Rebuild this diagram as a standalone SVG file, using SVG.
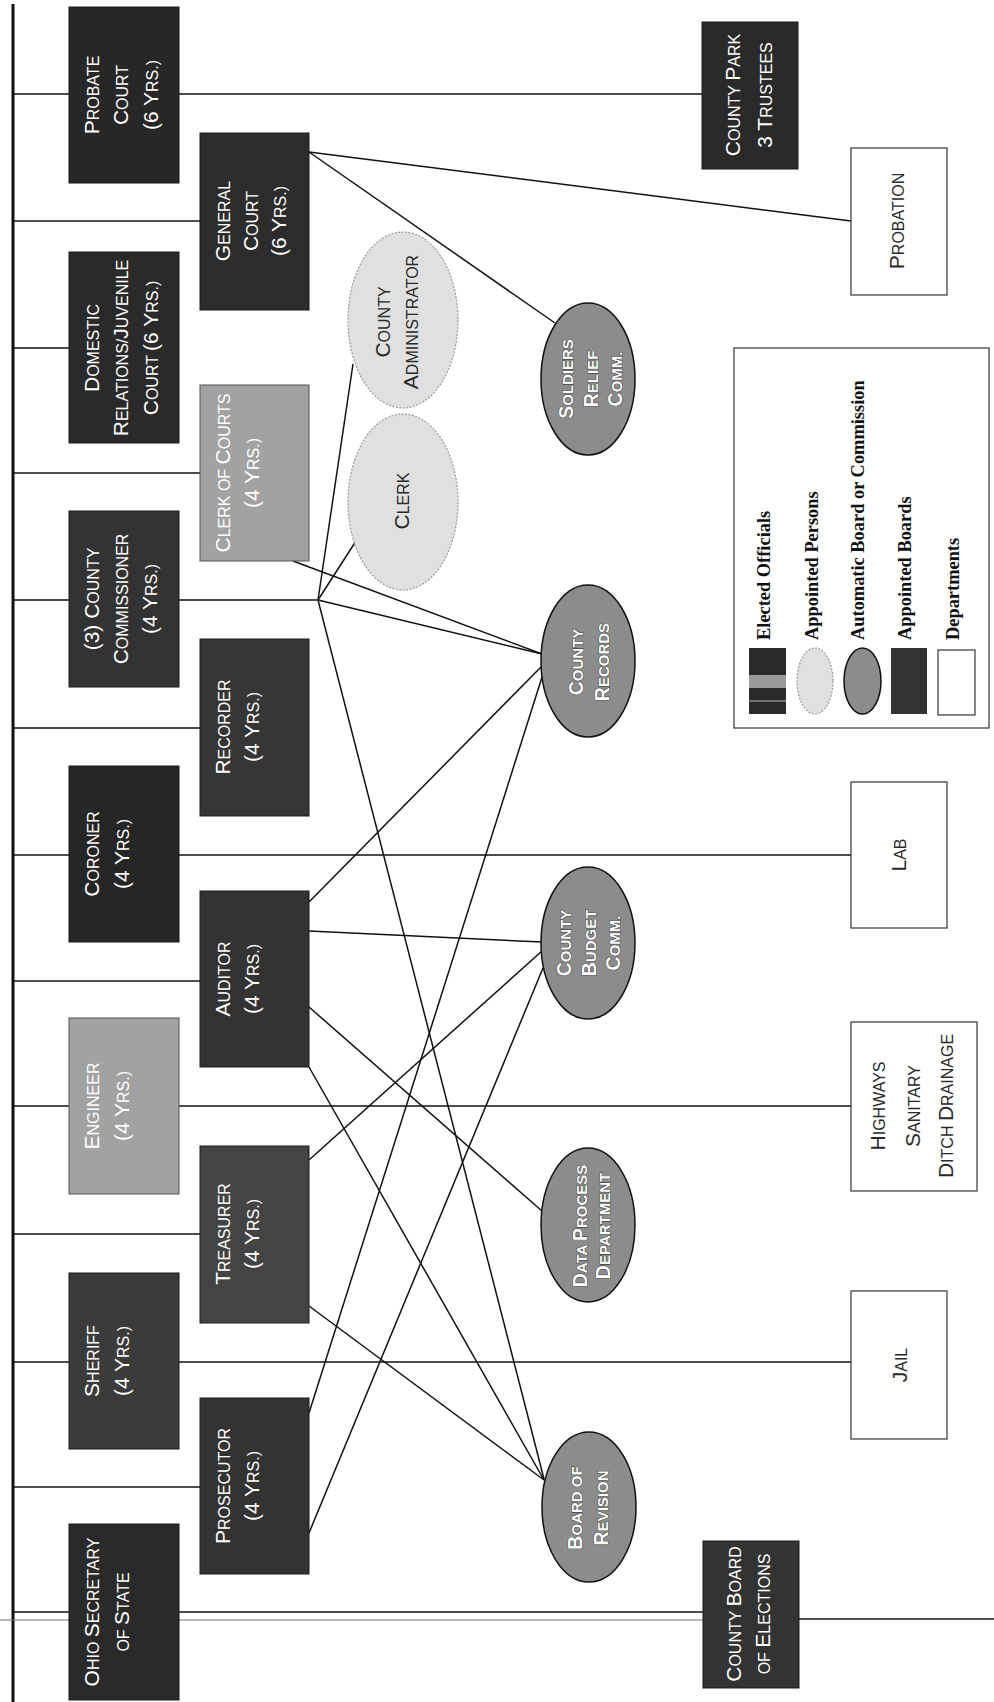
<svg xmlns="http://www.w3.org/2000/svg" width="994" height="1702" viewBox="0 0 994 1702">
<style>
.ln{stroke:#111;stroke-width:1.5;fill:none}
.fa{stroke:#777;stroke-width:1.2;fill:none}
.bar{stroke:#111;stroke-width:3}
.dk{stroke:#1a1a1a;stroke-width:1}
.lt{fill:#a2a2a2;stroke:#555;stroke-width:1}
.dept{fill:#fff;stroke:#444;stroke-width:1.3}
.auto{fill:#8c8c8c;stroke:#111;stroke-width:1.5}
.appt{fill:#e0e0e0;stroke:#999;stroke-width:1.2;stroke-dasharray:2 1.5}
.t{font-family:"Liberation Sans",Arial,Helvetica,sans-serif;font-size:16px;fill:#fff;text-anchor:middle}
.B{font-size:21px}
.e{font-family:"Liberation Sans",Arial,Helvetica,sans-serif;font-size:15px;font-weight:bold;fill:#fff;stroke:#222;stroke-width:0.8;paint-order:stroke;text-anchor:middle}
.E{font-size:19.5px}
.d{fill:#2a2a2a}
.lg{font-family:"Liberation Serif","Times New Roman",serif;font-size:18.4px;font-weight:bold;fill:#111}
</style>

<g id="connectors">
  <line class="bar" x1="13" y1="4" x2="13" y2="1702"/>
  <line class="ln" x1="13" y1="94" x2="702" y2="94"/>
  <line class="ln" x1="13" y1="348" x2="69" y2="348"/>
  <line class="ln" x1="13" y1="600" x2="318" y2="600"/>
  <line class="ln" x1="13" y1="855" x2="851" y2="855"/>
  <line class="ln" x1="13" y1="1106" x2="851" y2="1106"/>
  <line class="ln" x1="13" y1="1362" x2="851" y2="1362"/>
  <line class="ln" x1="13" y1="1612" x2="703" y2="1612"/>
  <line class="fa" x1="0" y1="1620" x2="703" y2="1620"/>
  <line class="ln" x1="799" y1="1619" x2="994" y2="1619"/>
  <line class="ln" x1="13" y1="221" x2="200" y2="221"/>
  <line class="ln" x1="13" y1="473" x2="200" y2="473"/>
  <line class="ln" x1="13" y1="728" x2="200" y2="728"/>
  <line class="ln" x1="13" y1="981" x2="200" y2="981"/>
  <line class="ln" x1="13" y1="1234" x2="200" y2="1234"/>
  <line class="ln" x1="13" y1="1487" x2="200" y2="1487"/>
  <line class="ln" x1="309" y1="152" x2="851" y2="221"/>
  <line class="ln" x1="309" y1="152" x2="555" y2="323"/>
  <line class="ln" x1="318" y1="600" x2="353" y2="364"/>
  <line class="ln" x1="318" y1="600" x2="356" y2="541"/>
  <line class="ln" x1="318" y1="600" x2="542" y2="654"/>
  <line class="ln" x1="318" y1="600" x2="544" y2="1479"/>
  <line class="ln" x1="293" y1="561" x2="542" y2="654"/>
  <line class="ln" x1="309" y1="902" x2="542" y2="666"/>
  <line class="ln" x1="309" y1="931" x2="542" y2="942"/>
  <line class="ln" x1="309" y1="1007" x2="542" y2="1211"/>
  <line class="ln" x1="309" y1="1067" x2="544" y2="1480"/>
  <line class="ln" x1="309" y1="1160" x2="542" y2="951"/>
  <line class="ln" x1="309" y1="1306" x2="544" y2="1480"/>
  <line class="ln" x1="309" y1="1413" x2="543" y2="674"/>
  <line class="ln" x1="309" y1="1533" x2="543" y2="968"/>
</g>

<g id="n-probate">
  <rect class="dk" x="69" y="7" width="110" height="176" fill="#272727"/>
  <text class="t" transform="translate(99,95) rotate(-90)"><tspan x="0" y="0"><tspan class="B">P</tspan>ROBATE</tspan><tspan x="0" y="29"><tspan class="B">C</tspan>OURT</tspan><tspan x="0" y="59"><tspan class="B">(6 Y</tspan>RS.)</tspan></text>
</g>
<g id="n-domestic">
  <rect class="dk" x="69" y="252" width="110" height="191" fill="#2a2a2a"/>
  <text class="t" transform="translate(99,348) rotate(-90)"><tspan x="0" y="0"><tspan class="B">D</tspan>OMESTIC</tspan><tspan x="0" y="29"><tspan class="B">R</tspan>ELATIONS/<tspan class="B">J</tspan>UVENILE</tspan><tspan x="0" y="59"><tspan class="B">C</tspan>OURT <tspan class="B">(6 Y</tspan>RS.)</tspan></text>
</g>
<g id="n-commissioner">
  <rect class="dk" x="69" y="511" width="110" height="176" fill="#333"/>
  <text class="t" transform="translate(99,599) rotate(-90)"><tspan x="0" y="0"><tspan class="B">(3) C</tspan>OUNTY</tspan><tspan x="0" y="29"><tspan class="B">C</tspan>OMMISSIONER</tspan><tspan x="0" y="58"><tspan class="B">(4 Y</tspan>RS.)</tspan></text>
</g>
<g id="n-coroner">
  <rect class="dk" x="69" y="766" width="110" height="176" fill="#262626"/>
  <text class="t" transform="translate(99,854) rotate(-90)"><tspan x="0" y="0"><tspan class="B">C</tspan>ORONER</tspan><tspan x="0" y="30"><tspan class="B">(4 Y</tspan>RS.)</tspan></text>
</g>
<g id="n-engineer">
  <rect class="lt" x="69" y="1018" width="110" height="176"/>
  <text class="t" transform="translate(99,1106) rotate(-90)"><tspan x="0" y="0"><tspan class="B">E</tspan>NGINEER</tspan><tspan x="0" y="30"><tspan class="B">(4 Y</tspan>RS.)</tspan></text>
</g>
<g id="n-sheriff">
  <rect class="dk" x="69" y="1273" width="110" height="176" fill="#3b3b3b"/>
  <text class="t" transform="translate(99,1361) rotate(-90)"><tspan x="0" y="0"><tspan class="B">S</tspan>HERIFF</tspan><tspan x="0" y="30"><tspan class="B">(4 Y</tspan>RS.)</tspan></text>
</g>
<g id="n-ohio">
  <rect class="dk" x="69" y="1524" width="110" height="176" fill="#2a2a2a"/>
  <text class="t" transform="translate(99,1612) rotate(-90)"><tspan x="0" y="0"><tspan class="B">O</tspan>HIO <tspan class="B">S</tspan>ECRETARY</tspan><tspan x="0" y="30">OF <tspan class="B">S</tspan>TATE</tspan></text>
</g>

<g id="n-general">
  <rect class="dk" x="200" y="133" width="109" height="177" fill="#2c2c2c"/>
  <text class="t" transform="translate(230,221) rotate(-90)"><tspan x="0" y="0"><tspan class="B">G</tspan>ENERAL</tspan><tspan x="0" y="28"><tspan class="B">C</tspan>OURT</tspan><tspan x="0" y="56"><tspan class="B">(6 Y</tspan>RS.)</tspan></text>
</g>
<g id="n-clerkcourts">
  <rect class="lt" x="200" y="385" width="109" height="176"/>
  <text class="t" transform="translate(230,473) rotate(-90)"><tspan x="0" y="0"><tspan class="B">C</tspan>LERK OF <tspan class="B">C</tspan>OURTS</tspan><tspan x="0" y="29"><tspan class="B">(4 Y</tspan>RS.)</tspan></text>
</g>
<g id="n-recorder">
  <rect class="dk" x="200" y="639" width="109" height="177" fill="#363636"/>
  <text class="t" transform="translate(230,727) rotate(-90)"><tspan x="0" y="0"><tspan class="B">R</tspan>ECORDER</tspan><tspan x="0" y="29"><tspan class="B">(4 Y</tspan>RS.)</tspan></text>
</g>
<g id="n-auditor">
  <rect class="dk" x="200" y="891" width="109" height="176" fill="#333"/>
  <text class="t" transform="translate(230,979) rotate(-90)"><tspan x="0" y="0"><tspan class="B">A</tspan>UDITOR</tspan><tspan x="0" y="29"><tspan class="B">(4 Y</tspan>RS.)</tspan></text>
</g>
<g id="n-treasurer">
  <rect class="dk" x="200" y="1146" width="109" height="177" fill="#444"/>
  <text class="t" transform="translate(230,1234) rotate(-90)"><tspan x="0" y="0"><tspan class="B">T</tspan>REASURER</tspan><tspan x="0" y="29"><tspan class="B">(4 Y</tspan>RS.)</tspan></text>
</g>
<g id="n-prosecutor">
  <rect class="dk" x="200" y="1398" width="109" height="176" fill="#333"/>
  <text class="t" transform="translate(230,1486) rotate(-90)"><tspan x="0" y="0"><tspan class="B">P</tspan>ROSECUTOR</tspan><tspan x="0" y="29"><tspan class="B">(4 Y</tspan>RS.)</tspan></text>
</g>

<g id="n-countyadmin">
  <ellipse class="appt" cx="403" cy="320" rx="55" ry="88"/>
  <text class="t d" transform="translate(390,322) rotate(-90)"><tspan x="0" y="0"><tspan class="B">C</tspan>OUNTY</tspan><tspan x="0" y="28"><tspan class="B">A</tspan>DMINISTRATOR</tspan></text>
</g>
<g id="n-clerk">
  <ellipse class="appt" cx="403" cy="502" rx="55" ry="88"/>
  <text class="t d" transform="translate(409,501) rotate(-90)"><tspan class="B">C</tspan>LERK</text>
</g>

<g id="n-soldiers">
  <ellipse class="auto" cx="588" cy="379" rx="47" ry="76"/>
  <text class="e" transform="translate(573,379) rotate(-90)"><tspan x="0" y="0"><tspan class="E">S</tspan>OLDIERS</tspan><tspan x="0" y="24.5"><tspan class="E">R</tspan>ELIEF</tspan><tspan x="0" y="49"><tspan class="E">C</tspan>OMM.</tspan></text>
</g>
<g id="n-records">
  <ellipse class="auto" cx="588" cy="661" rx="47" ry="76"/>
  <text class="e" transform="translate(583,662) rotate(-90)"><tspan x="0" y="0"><tspan class="E">C</tspan>OUNTY</tspan><tspan x="0" y="26"><tspan class="E">R</tspan>ECORDS</tspan></text>
</g>
<g id="n-budget">
  <ellipse class="auto" cx="588" cy="943" rx="47" ry="76"/>
  <text class="e" transform="translate(571,943) rotate(-90)"><tspan x="0" y="0"><tspan class="E">C</tspan>OUNTY</tspan><tspan x="0" y="24.5"><tspan class="E">B</tspan>UDGET</tspan><tspan x="0" y="49"><tspan class="E">C</tspan>OMM.</tspan></text>
</g>
<g id="n-dataprocess">
  <ellipse class="auto" cx="588" cy="1225" rx="47" ry="77"/>
  <text class="e" transform="translate(587,1226) rotate(-90)"><tspan x="0" y="0"><tspan class="E">D</tspan>ATA <tspan class="E">P</tspan>ROCESS</tspan><tspan x="0" y="23"><tspan class="E">D</tspan>EPARTMENT</tspan></text>
</g>
<g id="n-revision">
  <ellipse class="auto" cx="589" cy="1507" rx="47" ry="75"/>
  <text class="e" transform="translate(582,1508) rotate(-90)"><tspan x="0" y="0"><tspan class="E">B</tspan>OARD OF</tspan><tspan x="0" y="26"><tspan class="E">R</tspan>EVISION</tspan></text>
</g>

<g id="n-countypark">
  <rect class="dk" x="702" y="22" width="96" height="147" fill="#2a2a2a"/>
  <text class="t" transform="translate(740,95) rotate(-90)"><tspan x="0" y="0"><tspan class="B">C</tspan>OUNTY <tspan class="B">P</tspan>ARK</tspan><tspan x="0" y="32"><tspan class="B">3 T</tspan>RUSTEES</tspan></text>
</g>
<g id="n-elections">
  <rect class="dk" x="703" y="1541" width="96" height="147" fill="#333"/>
  <text class="t" transform="translate(741,1614) rotate(-90)"><tspan x="0" y="0"><tspan class="B">C</tspan>OUNTY <tspan class="B">B</tspan>OARD</tspan><tspan x="0" y="29">OF <tspan class="B">E</tspan>LECTIONS</tspan></text>
</g>

<g id="n-probation">
  <rect class="dept" x="851" y="148" width="96" height="147"/>
  <text class="t d" transform="translate(904,221) rotate(-90)"><tspan class="B">P</tspan>ROBATION</text>
</g>
<g id="n-lab">
  <rect class="dept" x="851" y="782" width="96" height="146"/>
  <text class="t d" transform="translate(906,855) rotate(-90)"><tspan class="B">L</tspan>AB</text>
</g>
<g id="n-highways">
  <rect class="dept" x="851" y="1022" width="126" height="169"/>
  <text class="t d" transform="translate(885,1106) rotate(-90)"><tspan x="0" y="0"><tspan class="B">H</tspan>IGHWAYS</tspan><tspan x="0" y="35"><tspan class="B">S</tspan>ANITARY</tspan><tspan x="0" y="68"><tspan class="B">D</tspan>ITCH <tspan class="B">D</tspan>RAINAGE</tspan></text>
</g>
<g id="n-jail">
  <rect class="dept" x="851" y="1291" width="96" height="148"/>
  <text class="t d" transform="translate(907,1365) rotate(-90)"><tspan class="B">J</tspan>AIL</text>
</g>

<g id="legend">
  <rect x="734" y="348" width="255" height="380" fill="#fff" stroke="#444" stroke-width="1.3"/>
  <rect x="749" y="648" width="37" height="66" fill="#2a2a2a"/>
  <rect x="749" y="675" width="37" height="13" fill="#9a9a9a"/>
  <line x1="749" y1="701" x2="786" y2="701" stroke="#bbb" stroke-width="1"/>
  <ellipse class="appt" cx="815" cy="681" rx="18" ry="33"/>
  <ellipse class="auto" cx="862.5" cy="681" rx="18.5" ry="33"/>
  <rect x="891" y="648" width="36" height="66" fill="#333"/>
  <rect class="dept" x="938" y="650" width="37" height="65"/>
  <text class="lg" transform="translate(770,640) rotate(-90)">Elected Officials</text>
  <text class="lg" transform="translate(818,640) rotate(-90)">Appointed Persons</text>
  <text class="lg" transform="translate(864,640) rotate(-90)">Automatic Board or Commission</text>
  <text class="lg" transform="translate(911,640) rotate(-90)">Appointed Boards</text>
  <text class="lg" transform="translate(959,640) rotate(-90)">Departments</text>
</g>
</svg>
